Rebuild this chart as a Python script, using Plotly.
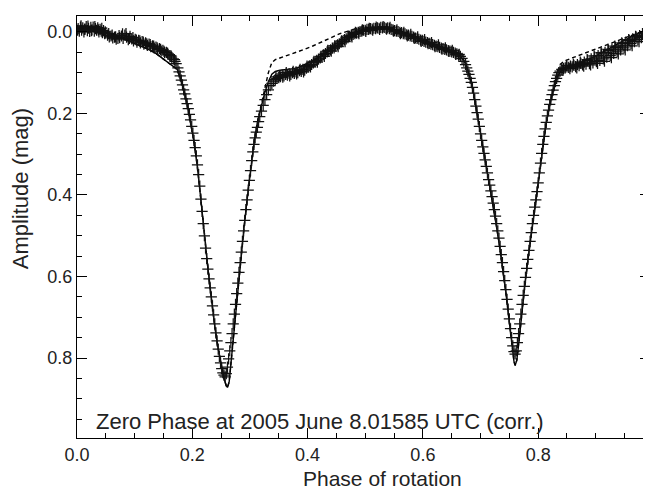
import plotly.graph_objects as go

# ---------------- observed data, set 1 (phase, mag) ----------------
obs_phase = [
    0.002, 0.004, 0.006, 0.008, 0.010, 0.012, 0.014, 0.016, 0.018, 0.020, 0.022, 0.024, 0.026, 0.028, 0.030,
    0.032, 0.034, 0.036, 0.038, 0.040, 0.042, 0.044, 0.046, 0.048, 0.050,
    0.053, 0.056, 0.059, 0.062, 0.065, 0.068, 0.071, 0.074, 0.077, 0.080, 0.083, 0.086, 0.089, 0.092, 0.095,
    0.098, 0.101, 0.104, 0.107, 0.110, 0.113, 0.116, 0.119, 0.122, 0.125, 0.128, 0.131, 0.134, 0.137, 0.140,
    0.143, 0.146, 0.149, 0.152, 0.155, 0.158, 0.161, 0.164, 0.167, 0.170, 0.172,
    0.175, 0.177, 0.179, 0.181, 0.183, 0.185, 0.187, 0.189, 0.191, 0.193, 0.195, 0.197, 0.199, 0.201, 0.203,
    0.205, 0.207, 0.209, 0.211, 0.213, 0.215, 0.217, 0.219, 0.221, 0.223, 0.225, 0.227, 0.229, 0.231, 0.233,
    0.235, 0.237, 0.239, 0.241, 0.243, 0.245, 0.247, 0.249, 0.251, 0.253, 0.255, 0.257, 0.259, 0.261, 0.263,
    0.265, 0.267, 0.269, 0.271, 0.273, 0.275, 0.277, 0.279, 0.281, 0.283, 0.285, 0.287, 0.289, 0.291, 0.293,
    0.295, 0.297, 0.299, 0.301, 0.303, 0.305, 0.307, 0.309, 0.311, 0.313, 0.315, 0.317, 0.320, 0.323, 0.326,
    0.329, 0.332, 0.335, 0.338, 0.341,
    0.344, 0.347, 0.350, 0.353, 0.356, 0.359, 0.362, 0.365, 0.368, 0.371, 0.374, 0.377, 0.380, 0.383, 0.386,
    0.389, 0.392, 0.395, 0.398, 0.401, 0.404, 0.407, 0.410, 0.413, 0.416, 0.419, 0.422, 0.425, 0.428, 0.431,
    0.434, 0.437, 0.440, 0.443, 0.446, 0.449, 0.452, 0.455, 0.458, 0.461, 0.464, 0.467, 0.470, 0.473, 0.476,
    0.479, 0.482, 0.485, 0.488, 0.491, 0.494, 0.497, 0.500, 0.503, 0.506, 0.509, 0.512, 0.515, 0.518, 0.521,
    0.524, 0.527, 0.530, 0.533, 0.536, 0.539, 0.542,
    0.545, 0.548, 0.551, 0.554, 0.557, 0.560, 0.563, 0.566, 0.569, 0.572, 0.575, 0.578, 0.581, 0.584, 0.587,
    0.590, 0.593, 0.596, 0.599, 0.602, 0.605, 0.608, 0.611, 0.614, 0.617, 0.620, 0.623, 0.626, 0.629, 0.632,
    0.635, 0.638, 0.641, 0.644, 0.647, 0.650, 0.653, 0.656, 0.659, 0.662, 0.665, 0.668, 0.671,
    0.674, 0.676, 0.678, 0.680, 0.682, 0.684, 0.686, 0.688, 0.690, 0.692, 0.694, 0.696, 0.698, 0.700, 0.702,
    0.704, 0.706, 0.708, 0.710, 0.712, 0.714, 0.716, 0.718, 0.720, 0.722, 0.724, 0.726, 0.728, 0.730, 0.732,
    0.734, 0.736, 0.738, 0.740, 0.742, 0.744, 0.746, 0.748, 0.750, 0.752, 0.754, 0.756, 0.758, 0.760, 0.762,
    0.764, 0.766, 0.768, 0.770, 0.772, 0.774, 0.776, 0.778, 0.780, 0.782, 0.784, 0.786, 0.788, 0.790, 0.792,
    0.794, 0.796, 0.798, 0.800, 0.802, 0.804, 0.806, 0.808, 0.810, 0.812, 0.814, 0.816, 0.818, 0.820, 0.822,
    0.824, 0.826, 0.828, 0.830, 0.832, 0.834, 0.836, 0.838,
    0.841, 0.844, 0.847, 0.850, 0.853, 0.856, 0.859, 0.862, 0.865, 0.868, 0.871, 0.874, 0.877, 0.880, 0.883,
    0.886, 0.889, 0.892, 0.895, 0.898, 0.901, 0.904, 0.907, 0.910, 0.913, 0.916, 0.919, 0.922, 0.925, 0.928,
    0.931, 0.934, 0.937, 0.940, 0.943, 0.946, 0.949, 0.952, 0.955, 0.958, 0.961, 0.964, 0.967, 0.970, 0.973,
    0.976, 0.979, 0.982, 0.985, 0.988, 0.991,
]
obs_mag = [
    -0.008, -0.002, -0.012, -0.004, -0.010, 0.000, -0.007, -0.013, -0.003, -0.009, -0.001, -0.011, -0.005, -0.012, -0.002,
    -0.008, -0.004, -0.010, 0.000, -0.006, -0.002, 0.002, -0.003, 0.004, 0.003,
    0.008, 0.012, 0.010, 0.015, 0.013, 0.018, 0.016, 0.014, 0.010, 0.016, 0.008, 0.013, 0.019, 0.011, 0.017,
    0.022, 0.018, 0.025, 0.021, 0.027, 0.024, 0.030, 0.027, 0.033, 0.030, 0.036, 0.034, 0.040, 0.037, 0.043,
    0.041, 0.047, 0.045, 0.051, 0.050, 0.055, 0.058, 0.062, 0.066, 0.072, 0.078,
    0.088, 0.098, 0.108, 0.118, 0.130, 0.142, 0.152, 0.164, 0.176, 0.188, 0.202, 0.216, 0.232, 0.248, 0.266,
    0.284, 0.304, 0.326, 0.350, 0.378, 0.410, 0.440, 0.470, 0.500, 0.530, 0.556, 0.582, 0.606, 0.628, 0.650,
    0.672, 0.694, 0.716, 0.738, 0.758, 0.778, 0.796, 0.812, 0.826, 0.836, 0.842, 0.846, 0.838, 0.822, 0.802,
    0.782, 0.762, 0.740, 0.716, 0.692, 0.668, 0.642, 0.616, 0.590, 0.566, 0.540, 0.514, 0.488, 0.462, 0.436,
    0.412, 0.388, 0.364, 0.340, 0.316, 0.294, 0.276, 0.260, 0.246, 0.234, 0.220, 0.208, 0.194, 0.180, 0.166,
    0.154, 0.142, 0.132, 0.126, 0.121,
    0.117, 0.114, 0.112, 0.110, 0.106, 0.108, 0.104, 0.106, 0.102, 0.104, 0.100, 0.102, 0.098, 0.100, 0.095,
    0.097, 0.092, 0.094, 0.089, 0.086, 0.083, 0.080, 0.076, 0.073, 0.070, 0.067, 0.064, 0.060, 0.056, 0.053,
    0.049, 0.046, 0.044, 0.040, 0.039, 0.035, 0.032, 0.029, 0.025, 0.023, 0.019, 0.017, 0.014, 0.011, 0.009,
    0.006, 0.004, 0.003, 0.001, -0.001, -0.002, -0.004, -0.004, -0.006, -0.006, -0.008, -0.007, -0.009, -0.008, -0.010,
    -0.009, -0.011, -0.010, -0.011, -0.009, -0.010, -0.008,
    -0.006, -0.005, -0.003, -0.002, -0.001, 0.001, 0.002, 0.004, 0.005, 0.007, 0.008, 0.010, 0.011, 0.013, 0.015,
    0.016, 0.018, 0.020, 0.021, 0.023, 0.025, 0.026, 0.028, 0.030, 0.031, 0.033, 0.035, 0.036, 0.038, 0.040,
    0.041, 0.043, 0.044, 0.046, 0.047, 0.049, 0.050, 0.052, 0.054, 0.057, 0.060, 0.065, 0.072,
    0.080, 0.088, 0.096, 0.104, 0.114, 0.124, 0.136, 0.150, 0.166, 0.182, 0.198, 0.214, 0.232, 0.250, 0.266,
    0.282, 0.298, 0.314, 0.330, 0.346, 0.362, 0.376, 0.390, 0.404, 0.420, 0.436, 0.452, 0.470, 0.488, 0.506,
    0.526, 0.546, 0.566, 0.588, 0.610, 0.632, 0.656, 0.680, 0.704, 0.728, 0.750, 0.770, 0.784, 0.790, 0.782,
    0.762, 0.740, 0.716, 0.692, 0.668, 0.646, 0.624, 0.602, 0.580, 0.558, 0.536, 0.514, 0.492, 0.470, 0.450,
    0.430, 0.412, 0.392, 0.370, 0.346, 0.322, 0.298, 0.276, 0.256, 0.238, 0.222, 0.206, 0.192, 0.178, 0.166,
    0.154, 0.143, 0.132, 0.122, 0.114, 0.106, 0.100, 0.096,
    0.092, 0.090, 0.088, 0.086, 0.087, 0.084, 0.086, 0.082, 0.085, 0.080, 0.083, 0.077, 0.081, 0.074, 0.079,
    0.070, 0.078, 0.066, 0.076, 0.062, 0.073, 0.058, 0.070, 0.054, 0.066, 0.050, 0.062, 0.046, 0.058, 0.042,
    0.053, 0.038, 0.049, 0.034, 0.044, 0.029, 0.039, 0.025, 0.034, 0.021, 0.029, 0.017, 0.024, 0.013, 0.019,
    0.009, 0.014, 0.005, 0.009, 0.002, 0.004,
]

# ---------------- observed data, set 2 (another night, out-of-eclipse parts) ----------------
obs2_phase = [
    0.001, 0.007, 0.013, 0.019, 0.025, 0.031, 0.037, 0.043, 0.049, 0.055, 0.061, 0.067, 0.073, 0.079, 0.085,
    0.091, 0.097, 0.103, 0.109, 0.115, 0.121, 0.127, 0.133, 0.139, 0.145, 0.151, 0.157, 0.163, 0.169,
    0.345, 0.351, 0.357, 0.363, 0.369, 0.375, 0.381, 0.387, 0.393, 0.399, 0.405, 0.411, 0.417, 0.423, 0.429,
    0.435, 0.441, 0.447, 0.453, 0.459, 0.465, 0.471, 0.477, 0.483, 0.489, 0.495, 0.501, 0.507, 0.513, 0.519,
    0.525, 0.531, 0.537, 0.543, 0.549, 0.555, 0.561, 0.567, 0.573, 0.579, 0.585, 0.591, 0.597, 0.603, 0.609,
    0.615, 0.621, 0.627, 0.633, 0.639, 0.645, 0.651, 0.657, 0.663,
    0.843, 0.849, 0.855, 0.861, 0.867, 0.873, 0.879, 0.885, 0.891, 0.897, 0.903, 0.909, 0.915, 0.921, 0.927,
    0.933, 0.939, 0.945, 0.951, 0.957, 0.963, 0.969, 0.975, 0.981, 0.987, 0.992,
]
obs2_mag = [
    -0.004, -0.015, -0.006, -0.014, -0.003, -0.013, -0.005, -0.009, 0.000, 0.004, 0.008, 0.012, 0.009, 0.005, 0.004,
    0.016, 0.014, 0.020, 0.022, 0.025, 0.029, 0.031, 0.035, 0.039, 0.043, 0.048, 0.052, 0.059, 0.068,
    0.110, 0.107, 0.111, 0.100, 0.108, 0.097, 0.103, 0.092, 0.098, 0.084, 0.086, 0.072, 0.074, 0.060, 0.060,
    0.045, 0.047, 0.034, 0.036, 0.022, 0.024, 0.010, 0.012, 0.001, 0.004, -0.005, -0.001, -0.009, -0.004, -0.012,
    -0.006, -0.013, -0.007, -0.011, -0.002, -0.005, 0.004, 0.001, 0.010, 0.006, 0.016, 0.012, 0.023, 0.019, 0.029,
    0.026, 0.036, 0.032, 0.042, 0.039, 0.048, 0.045, 0.055, 0.055,
    0.094, 0.082, 0.090, 0.079, 0.088, 0.074, 0.084, 0.068, 0.081, 0.059, 0.077, 0.051, 0.072, 0.043, 0.063,
    0.035, 0.054, 0.027, 0.044, 0.019, 0.034, 0.011, 0.024, 0.004, 0.013, 0.001,
]

# ---------------- model curves ----------------
model_phase = [
    0.000, 0.020, 0.045, 0.065, 0.086, 0.105, 0.121, 0.135, 0.144, 0.155, 0.167, 0.174, 0.178, 0.184, 0.190,
    0.196, 0.202, 0.208, 0.214, 0.220, 0.226, 0.232, 0.238, 0.244, 0.250, 0.255, 0.259, 0.261, 0.264, 0.268,
    0.272, 0.278, 0.284, 0.290, 0.296, 0.302, 0.308, 0.314, 0.320, 0.326, 0.332, 0.338, 0.344, 0.352, 0.364,
    0.376, 0.386, 0.396, 0.410, 0.425, 0.440, 0.455, 0.470, 0.485, 0.500, 0.515, 0.530, 0.545, 0.560, 0.580,
    0.600, 0.620, 0.640, 0.655, 0.665, 0.672, 0.678, 0.684, 0.690, 0.696, 0.702, 0.708, 0.714, 0.720, 0.726,
    0.732, 0.738, 0.744, 0.750, 0.755, 0.758, 0.760, 0.763, 0.767, 0.772, 0.778, 0.784, 0.790, 0.796, 0.802,
    0.808, 0.814, 0.820, 0.826, 0.832, 0.838, 0.845, 0.855, 0.870, 0.885, 0.900, 0.919, 0.935, 0.948, 0.961,
    0.977, 0.993,
]
model_solid = [
    -0.004, -0.003, 0.000, 0.008, 0.020, 0.030, 0.041, 0.051, 0.061, 0.072, 0.086, 0.092, 0.108, 0.135, 0.170,
    0.212, 0.262, 0.320, 0.394, 0.480, 0.566, 0.642, 0.712, 0.770, 0.818, 0.850, 0.868, 0.872, 0.858, 0.800,
    0.730, 0.636, 0.554, 0.476, 0.400, 0.324, 0.262, 0.214, 0.178, 0.148, 0.122, 0.104, 0.097, 0.094, 0.092,
    0.090, 0.086, 0.080, 0.070, 0.058, 0.044, 0.030, 0.016, 0.005, -0.003, -0.008, -0.010, -0.007, 0.000, 0.010,
    0.022, 0.033, 0.043, 0.051, 0.060, 0.072, 0.094, 0.124, 0.166, 0.214, 0.266, 0.316, 0.366, 0.412, 0.462,
    0.516, 0.576, 0.640, 0.712, 0.775, 0.808, 0.818, 0.805, 0.755, 0.680, 0.608, 0.540, 0.474, 0.412, 0.348,
    0.280, 0.224, 0.180, 0.143, 0.115, 0.098, 0.090, 0.085, 0.078, 0.069, 0.059, 0.045, 0.032, 0.022, 0.012,
    0.002, -0.004,
]
model_dashed = [
    -0.004, -0.003, 0.000, 0.008, 0.020, 0.030, 0.041, 0.051, 0.061, 0.072, 0.086, 0.092, 0.108, 0.135, 0.170,
    0.212, 0.262, 0.320, 0.394, 0.480, 0.566, 0.642, 0.712, 0.770, 0.818, 0.850, 0.868, 0.872, 0.858, 0.800,
    0.730, 0.636, 0.554, 0.476, 0.400, 0.324, 0.262, 0.214, 0.178, 0.140, 0.100, 0.075, 0.068, 0.064, 0.058,
    0.053, 0.048, 0.042, 0.034, 0.024, 0.015, 0.005, -0.002, -0.008, -0.011, -0.012, -0.012, -0.007, 0.000, 0.010,
    0.022, 0.033, 0.043, 0.051, 0.060, 0.072, 0.094, 0.124, 0.166, 0.214, 0.266, 0.316, 0.366, 0.412, 0.462,
    0.516, 0.576, 0.640, 0.712, 0.775, 0.808, 0.818, 0.805, 0.755, 0.680, 0.608, 0.540, 0.474, 0.412, 0.348,
    0.280, 0.224, 0.180, 0.143, 0.105, 0.080, 0.072, 0.066, 0.058, 0.050, 0.042, 0.033, 0.024, 0.017, 0.010,
    0.002, -0.008,
]

x_ticks = [0.0, 0.2, 0.4, 0.6, 0.8]
x_ticklabels = ["0.0", "0.2", "0.4", "0.6", "0.8"]
y_ticks = [0.0, 0.2, 0.4, 0.6, 0.8]
y_ticklabels = ["0.0", "0.2", "0.4", "0.6", "0.8"]

FONT = "Liberation Sans, Arial, sans-serif"
MARK = dict(symbol="cross-thin", size=8, line=dict(color="#111111", width=1.25))

fig = go.Figure()
fig.add_trace(go.Scatter(
    x=model_phase, y=model_dashed, mode="lines",
    line=dict(color="black", width=1.4, dash="4px,3px"), showlegend=False))
fig.add_trace(go.Scatter(
    x=model_phase, y=model_solid, mode="lines",
    line=dict(color="black", width=1.4), showlegend=False))
fig.add_trace(go.Scatter(
    x=obs_phase, y=obs_mag, mode="markers", marker=MARK, showlegend=False))
fig.add_trace(go.Scatter(
    x=obs2_phase, y=obs2_mag, mode="markers", marker=MARK, showlegend=False))

axis_common = dict(
    showline=True, linecolor="black", linewidth=1, mirror="allticks",
    ticks="inside", ticklen=10, tickwidth=1, tickcolor="black",
    showgrid=False, zeroline=False,
    tickfont=dict(family=FONT, size=18, color="#222222"),
    minor=dict(ticks="inside", ticklen=5, tickwidth=1, tickcolor="black", dtick=0.05, showgrid=False),
)

fig.update_xaxes(range=[0, 0.994], tickvals=x_ticks, ticktext=x_ticklabels, **axis_common)
fig.update_yaxes(range=[0.996, -0.039], tickvals=y_ticks, ticktext=y_ticklabels, **axis_common)

# The page body adds an 8px margin, so the figure is 8px smaller than the window.
fig.update_layout(
    width=643, height=487,
    margin=dict(l=69, r=1, t=8, b=57),
    paper_bgcolor="white", plot_bgcolor="white",
    font=dict(family=FONT, color="#222222"),
    annotations=[
        dict(text="Zero Phase at 2005 June 8.01585 UTC (corr.)", xref="paper", yref="paper",
             x=0.0297, y=0.0386, xanchor="left", yanchor="middle", showarrow=False,
             font=dict(family=FONT, size=22, color="#222222")),
        dict(text="Phase of rotation", xref="paper", yref="paper",
             x=0.534, y=-0.127, xanchor="center", yanchor="bottom", showarrow=False,
             font=dict(family=FONT, size=21, color="#222222")),
        dict(text="Amplitude (mag)", xref="paper", yref="paper", textangle=-90,
             x=-0.099, y=0.590, xanchor="center", yanchor="middle", showarrow=False,
             font=dict(family=FONT, size=22, color="#222222")),
    ],
)

fig.write_html("out.html")
